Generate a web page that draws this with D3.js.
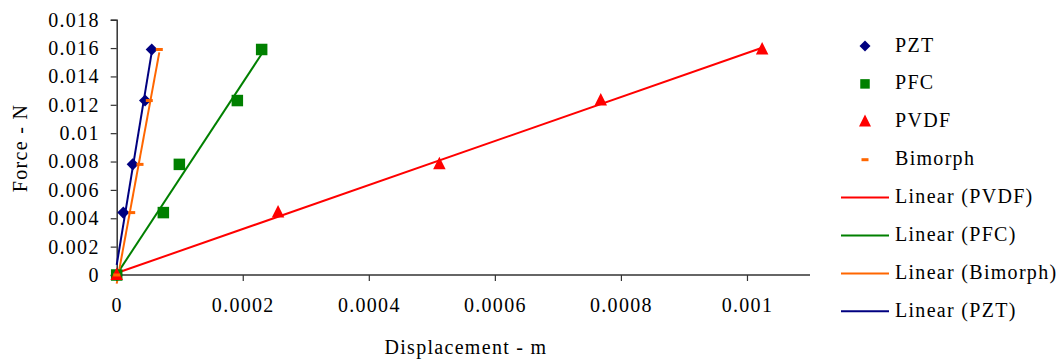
<!DOCTYPE html>
<html>
<head>
<meta charset="utf-8">
<script src="https://cdn.jsdelivr.net/npm/d3@7"></script>
<style>
  html, body { margin: 0; padding: 0; background: #fff; }
  svg text { font-family: "Liberation Serif", Tinos, "DejaVu Serif", serif !important; font-size: 20px; fill: #000; letter-spacing: 1.3px; }
</style>
</head>
<body>
<svg id="chart" width="1061" height="360" font-family="Liberation Serif, DejaVu Serif, serif"></svg>
<script>
// ---- data ----
const forceValues = [0, 0.0044, 0.0078, 0.0123, 0.0159];
const pztDisp     = [0, 0.0000105, 0.0000254, 0.000045, 0.0000556];
const pfcDisp     = [0, 0.000074, 0.0000994, 0.0001914, 0.00023];
const pvdfDisp    = [0, 0.000256, 0.000512, 0.000768, 0.001024];
const bimorphDisp = [0, 0.0000238, 0.000037, 0.0000517, 0.0000676];

const yTickValues = [0, 0.002, 0.004, 0.006, 0.008, 0.01, 0.012, 0.014, 0.016, 0.018];
const yTickLabels = ["0", "0.002", "0.004", "0.006", "0.008", "0.01", "0.012", "0.014", "0.016", "0.018"];
const xTickValues = [0, 0.0002, 0.0004, 0.0006, 0.0008, 0.001];
const xTickLabels = ["0", "0.0002", "0.0004", "0.0006", "0.0008", "0.001"];

const seriesNames  = ["PZT", "PFC", "PVDF", "Bimorph"];
const seriesDisp   = [pztDisp, pfcDisp, pvdfDisp, bimorphDisp];
const seriesColors = ["#000080", "#008000", "#FF0000", "#FF6600"];
const seriesShapes = ["diamond", "square", "triangle", "dash"];
const trendOrder   = ["PVDF", "PFC", "Bimorph", "PZT"];

// ---- layout ----
const FONT = "'Liberation Serif', 'DejaVu Serif', serif";
const svg = d3.select("#chart");
const x = d3.scaleLinear().domain([0, 0.0011]).range([116.7, 810]);
const y = d3.scaleLinear().domain([0, 0.018]).range([275, 19.7]);

// axes
const yAxis = d3.axisLeft(y).tickValues(yTickValues).tickFormat((d, i) => yTickLabels[i]).tickSize(6).tickPadding(11);
const gy = svg.append("g").attr("transform", `translate(${x(0)},0)`).call(yAxis);
gy.attr("font-family", FONT).attr("font-size", 20);
gy.select(".domain").attr("stroke", "#333").attr("stroke-width", 1.5);
gy.selectAll(".tick line").attr("stroke", "#333").attr("stroke-width", 1.2);

const xAxis = d3.axisBottom(x).tickValues(xTickValues).tickFormat((d, i) => xTickLabels[i]).tickSize(6);
const gx = svg.append("g").attr("transform", `translate(0,${y(0)})`).call(xAxis);
gx.attr("font-family", FONT).attr("font-size", 20);
gx.select(".domain").attr("stroke", "#333").attr("stroke-width", 1.5).attr("d", `M${x(0)},0H810`);
gx.selectAll(".tick line").attr("stroke", "#333").attr("stroke-width", 1.2);
gx.selectAll(".tick line").filter(d => d === 0).remove();
gx.selectAll(".tick text").attr("y", 37).attr("dy", null);
svg.selectAll(".tick text").style("fill", "#000").style("font-family", FONT);

// axis titles
svg.append("text").attr("x", 466).attr("y", 354).attr("text-anchor", "middle").style("font-family", FONT).text("Displacement - m");
svg.append("text").attr("transform", "translate(26.5,148) rotate(-90)").attr("text-anchor", "middle").style("font-family", FONT).text("Force - N");

// ---- trendlines (least squares) ----
function fit(xs, ys) {
  const mx = d3.mean(xs), my = d3.mean(ys);
  let num = 0, den = 0;
  xs.forEach((v, i) => { num += (v - mx) * (ys[i] - my); den += (v - mx) * (v - mx); });
  const m = num / den, b = my - m * mx;
  return v => m * v + b;
}
trendOrder.forEach(name => {
  const i = seriesNames.indexOf(name);
  const xs = seriesDisp[i];
  const f = fit(xs, forceValues);
  const x0 = d3.min(xs), x1 = d3.max(xs);
  svg.append("line")
    .attr("x1", x(x0)).attr("y1", y(f(x0)))
    .attr("x2", x(x1)).attr("y2", y(f(x1)))
    .attr("stroke", seriesColors[i]).attr("stroke-width", 2);
});

// ---- markers ----
function drawMarker(g, shape, cx, cy, color, s) {
  if (shape === "diamond") {
    const r = s * 0.55;
    g.append("path").attr("d", `M${cx},${cy - r}L${cx + r},${cy}L${cx},${cy + r}L${cx - r},${cy}Z`).attr("fill", color);
  } else if (shape === "square") {
    g.append("rect").attr("x", cx - s / 2).attr("y", cy - s / 2).attr("width", s).attr("height", s).attr("fill", color);
  } else if (shape === "triangle") {
    const h = s;
    g.append("path").attr("d", `M${cx},${cy - h * 0.6}L${cx + s / 2},${cy + h * 0.4}L${cx - s / 2},${cy + h * 0.4}Z`).attr("fill", color);
  } else if (shape === "dash") {
    g.append("rect").attr("x", cx - 3.5).attr("y", cy - 1.5).attr("width", 7).attr("height", 3).attr("fill", color);
  }
}
const markerSizes = { diamond: 11, square: 11.5, triangle: 12.5, dash: 7 };
seriesNames.forEach((name, i) => {
  const g = svg.append("g");
  seriesDisp[i].forEach((d, j) => {
    drawMarker(g, seriesShapes[i], x(d), y(forceValues[j]), seriesColors[i], markerSizes[seriesShapes[i]]);
  });
});

// ---- legend ----
const legendItems = [
  ...seriesNames.map((n, i) => ({ label: n, type: "marker", shape: seriesShapes[i], color: seriesColors[i] })),
  ...trendOrder.map(n => ({ label: `Linear (${n})`, type: "line", color: seriesColors[seriesNames.indexOf(n)] }))
];
const lg = svg.append("g");
legendItems.forEach((it, i) => {
  const cy = 46 + i * 37.9;
  if (it.type === "marker") {
    const s = it.shape === "square" ? 9.5 : it.shape === "diamond" ? 10 : it.shape === "triangle" ? 12 : 7;
    drawMarker(lg, it.shape, 865, cy, it.color, s);
  } else {
    lg.append("line").attr("x1", 841).attr("x2", 889).attr("y1", cy).attr("y2", cy)
      .attr("stroke", it.color).attr("stroke-width", 2);
  }
  lg.append("text").attr("x", 895).attr("y", cy + 5.5).style("font-family", FONT).text(it.label);
});
</script>
</body>
</html>
